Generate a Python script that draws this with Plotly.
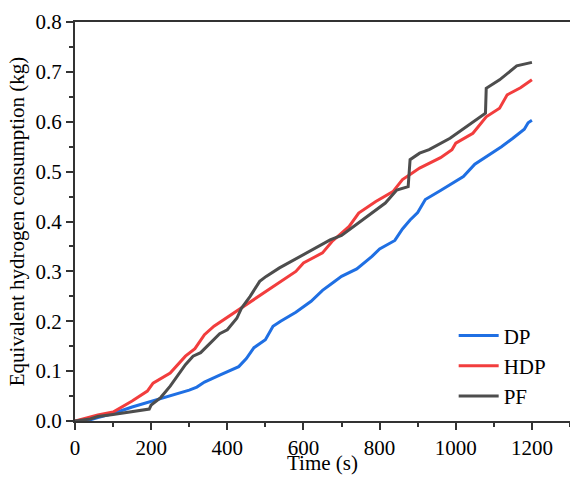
import plotly.graph_objects as go

dp_t = [0, 30, 60, 100, 150, 200, 250, 300, 320, 340, 380, 430, 450, 470, 500, 520, 540, 580, 620, 650, 670, 700, 740, 780, 800, 840, 860, 880, 900, 920, 960, 1000, 1020, 1050, 1080, 1120, 1150, 1180, 1190, 1200]
dp_v = [0, 0, 0.007, 0.015, 0.028, 0.039, 0.05, 0.062, 0.068, 0.078, 0.092, 0.109, 0.125, 0.147, 0.163, 0.19, 0.2, 0.218, 0.24, 0.262, 0.273, 0.29, 0.305, 0.33, 0.345, 0.362, 0.385, 0.403, 0.418, 0.444, 0.462, 0.48, 0.49, 0.515, 0.53, 0.55, 0.567, 0.585, 0.598, 0.603]

hdp_t = [0, 40, 60, 100, 150, 190, 205, 250, 290, 315, 340, 365, 450, 500, 580, 600, 650, 675, 720, 745, 790, 835, 860, 880, 905, 960, 990, 1000, 1045, 1080, 1115, 1135, 1170, 1200]
hdp_v = [0, 0.008, 0.012, 0.018, 0.04, 0.06, 0.076, 0.096, 0.13, 0.145, 0.173, 0.19, 0.233, 0.258, 0.3, 0.317, 0.337, 0.36, 0.39, 0.417, 0.44, 0.46, 0.484, 0.494, 0.507, 0.528, 0.544, 0.557, 0.577, 0.61, 0.627, 0.654, 0.668, 0.684]

pf_t = [0, 40, 60, 100, 195, 200, 225, 250, 290, 310, 330, 360, 380, 400, 425, 437, 460, 485, 502, 537, 580, 620, 670, 700, 745, 815, 845, 875, 880, 905, 930, 985, 1078, 1080, 1115, 1160, 1200]
pf_v = [0, 0.004, 0.009, 0.013, 0.024, 0.032, 0.047, 0.07, 0.113, 0.13, 0.137, 0.16, 0.175, 0.183, 0.206, 0.226, 0.25, 0.28, 0.29, 0.307, 0.325, 0.343, 0.363, 0.372, 0.397, 0.437, 0.463, 0.47, 0.524, 0.537, 0.544, 0.567, 0.617, 0.667, 0.684, 0.712, 0.719]

x_title = "Time (s)"
y_title = "Equivalent hydrogen consumption (kg)"

FONT = "Liberation Serif"

fig = go.Figure()
fig.add_trace(go.Scatter(x=dp_t, y=dp_v, mode="lines", name="DP", line=dict(color="#1f6fe3", width=3)))
fig.add_trace(go.Scatter(x=hdp_t, y=hdp_v, mode="lines", name="HDP", line=dict(color="#f23d3d", width=3)))
fig.add_trace(go.Scatter(x=pf_t, y=pf_v, mode="lines", name="PF", line=dict(color="#4d4d4d", width=3)))

axis_common = dict(
    showline=True, linecolor="#333333", linewidth=2, mirror=True,
    ticks="outside", ticklen=7, tickwidth=1.5, tickcolor="#333333",
    showgrid=False, zeroline=False, automargin=False,
    tickfont=dict(family=FONT, size=21, color="black"),
)

fig.update_xaxes(
    range=[0, 1300], tick0=0, dtick=200,
    minor=dict(dtick=100, ticklen=4, ticks="outside", tickcolor="#333333", tickwidth=1.5),
    **axis_common,
)
fig.update_yaxes(
    range=[0, 0.8], tick0=0, dtick=0.1, tickformat=".1f",
    minor=dict(dtick=0.05, ticklen=4, ticks="outside", tickcolor="#333333", tickwidth=1.5),
    title=dict(text=y_title, font=dict(family=FONT, size=21, color="black"), standoff=5),
    **axis_common,
)

fig.add_annotation(
    text=x_title, xref="paper", yref="paper", x=0.5, y=-0.14,
    xanchor="center", yanchor="bottom", showarrow=False,
    font=dict(family=FONT, size=21, color="black"),
)

fig.update_layout(
    width=570, height=477,
    margin=dict(l=75, r=0, t=22, b=56),
    plot_bgcolor="white", paper_bgcolor="white",
    legend=dict(
        x=0.765, y=0.265, xanchor="left", yanchor="top",
        font=dict(family=FONT, size=21, color="black"),
        bgcolor="rgba(0,0,0,0)", borderwidth=0,
        itemwidth=40, tracegroupgap=0,
    ),
)

fig.write_html("out.html")
